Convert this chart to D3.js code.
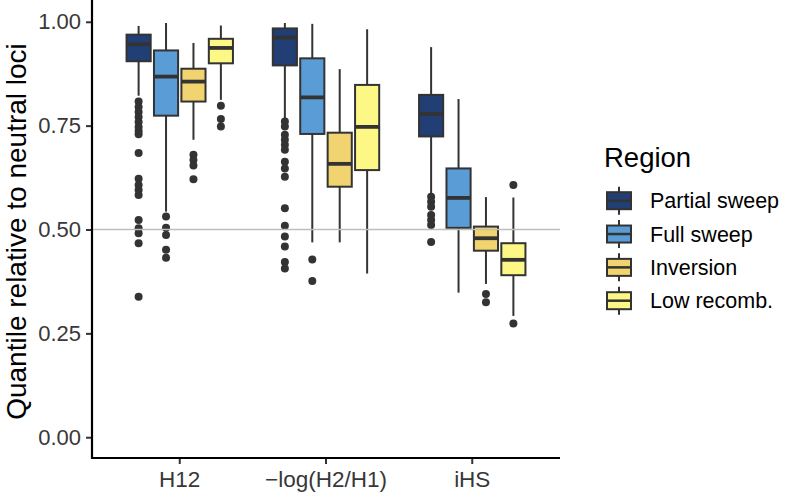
<!DOCTYPE html>
<html>
<head>
<meta charset="utf-8">
<script src="https://cdn.jsdelivr.net/npm/d3@7"></script>
<style>
  html, body { margin: 0; padding: 0; background: #ffffff; }
  svg { display: block; font-family: "Liberation Sans", Arial, Helvetica, sans-serif; }
</style>
</head>
<body>
<svg id="chart" width="789" height="495"></svg>
<script>
// ---------- data ----------
const categories = ["H12", "\u2212log(H2/H1)", "iHS"];
const regions = ["Partial sweep", "Full sweep", "Inversion", "Low recomb."];
const regionColors = ["#213f74", "#5a9cd6", "#f1d46f", "#fdf785"];
const yTicks = [0, 0.25, 0.5, 0.75, 1.0];
const yTickLabels = ["0.00", "0.25", "0.50", "0.75", "1.00"];
const referenceLine = 0.5;

// [category][region]
const lowerWhisker = [[0.822, 0.543, 0.716, 0.812], [0.768, 0.469, 0.469, 0.394], [0.583, 0.348, 0.369, 0.292]];
const q1           = [[0.905, 0.774, 0.808, 0.900], [0.895, 0.730, 0.603, 0.643], [0.724, 0.504, 0.449, 0.390]];
const medians      = [[0.946, 0.868, 0.856, 0.937], [0.962, 0.818, 0.658, 0.747], [0.778, 0.576, 0.479, 0.427]];
const q3           = [[0.969, 0.931, 0.887, 0.959], [0.984, 0.912, 0.733, 0.848], [0.824, 0.647, 0.507, 0.467]];
const upperWhisker = [[0.990, 0.997, 0.949, 0.991], [0.997, 0.995, 0.886, 0.982], [0.939, 0.814, 0.578, 0.577]];
const outliers = [
  [
    [0.808, 0.795, 0.783, 0.771, 0.759, 0.747, 0.737, 0.729, 0.684, 0.622, 0.607, 0.595, 0.583, 0.523, 0.503, 0.491, 0.467, 0.338],
    [0.531, 0.504, 0.487, 0.451, 0.432],
    [0.680, 0.667, 0.654, 0.621],
    [0.798, 0.766, 0.748]
  ],
  [
    [0.760, 0.748, 0.728, 0.716, 0.704, 0.692, 0.663, 0.647, 0.627, 0.551, 0.509, 0.483, 0.459, 0.422, 0.406],
    [0.428, 0.376],
    [],
    []
  ],
  [
    [0.579, 0.567, 0.555, 0.535, 0.523, 0.511, 0.470],
    [],
    [0.345, 0.325],
    [0.607, 0.274]
  ]
];

// ---------- layout ----------
const svg = d3.select("#chart");
const panel = { left: 92, right: 560, top: 1, bottom: 458 };
const ink = "#333333";
const tickInk = "#383838";

const x = d3.scaleBand().domain(categories).range([panel.left, panel.right]).paddingInner(0).paddingOuter(0.1);
const dodgeHalf = x.bandwidth() * 0.75 / 2;
const xInner = d3.scaleBand().domain(regions).range([-dodgeHalf, dodgeHalf]).paddingInner(0.12).paddingOuter(0.06);
const y = d3.scaleLinear().domain([-0.05, 1.05]).range([panel.bottom, panel.top]);
const color = d3.scaleOrdinal().domain(regions).range(regionColors);

// build box records
const boxes = [];
categories.forEach((c, ci) => {
  regions.forEach((r, ri) => {
    boxes.push({
      cat: c, region: r,
      lw: lowerWhisker[ci][ri], q1: q1[ci][ri], med: medians[ci][ri],
      q3: q3[ci][ri], uw: upperWhisker[ci][ri], out: outliers[ci][ri]
    });
  });
});
const cx = d => x(d.cat) + x.bandwidth() / 2 + xInner(d.region) + xInner.bandwidth() / 2;
const bw = xInner.bandwidth();

const g = svg.append("g");

// whiskers
g.selectAll("line.whisker-up").data(boxes).join("line")
  .attr("x1", cx).attr("x2", cx)
  .attr("y1", d => y(d.q3)).attr("y2", d => y(d.uw))
  .attr("stroke", ink).attr("stroke-width", 2);
g.selectAll("line.whisker-down").data(boxes).join("line")
  .attr("x1", cx).attr("x2", cx)
  .attr("y1", d => y(d.q1)).attr("y2", d => y(d.lw))
  .attr("stroke", ink).attr("stroke-width", 2);

// outliers
const outPts = [];
boxes.forEach(b => b.out.forEach(v => outPts.push({ b, v })));
g.selectAll("circle.out").data(outPts).join("circle")
  .attr("cx", d => cx(d.b)).attr("cy", d => y(d.v)).attr("r", 4)
  .attr("fill", ink);

// boxes
g.selectAll("rect.box").data(boxes).join("rect")
  .attr("x", d => cx(d) - bw / 2).attr("width", bw)
  .attr("y", d => y(d.q3)).attr("height", d => y(d.q1) - y(d.q3))
  .attr("fill", d => color(d.region))
  .attr("stroke", ink).attr("stroke-width", 2);

// medians
g.selectAll("line.median").data(boxes).join("line")
  .attr("x1", d => cx(d) - bw / 2).attr("x2", d => cx(d) + bw / 2)
  .attr("y1", d => y(d.med)).attr("y2", d => y(d.med))
  .attr("stroke", ink).attr("stroke-width", 3.8);

// reference line
svg.append("line")
  .attr("x1", panel.left).attr("x2", panel.right)
  .attr("y1", y(referenceLine)).attr("y2", y(referenceLine))
  .attr("stroke", "#bebebe").attr("stroke-width", 1.6);

// ---------- axes ----------
const yAxis = d3.axisLeft(y).tickValues(yTicks).tickSize(6).tickPadding(5)
  .tickFormat((d, i) => yTickLabels[i]);
const yg = svg.append("g").attr("transform", `translate(${panel.left},0)`).call(yAxis);
yg.select(".domain").remove();
yg.selectAll(".tick line").attr("stroke", ink).attr("stroke-width", 2);
yg.selectAll(".tick text").attr("fill", tickInk).style("font-size", "22px")
  .style("font-family", "Liberation Sans, Arial, sans-serif");

const xAxis = d3.axisBottom(x).tickSize(6).tickPadding(4);
const xg = svg.append("g").attr("transform", `translate(0,${panel.bottom})`).call(xAxis);
xg.select(".domain").remove();
xg.selectAll(".tick line").attr("stroke", ink).attr("stroke-width", 2);
xg.selectAll(".tick text").attr("fill", tickInk).style("font-size", "22.5px")
  .style("font-family", "Liberation Sans, Arial, sans-serif")
  .attr("y", 29).attr("dy", 0);

// axis lines
svg.append("path")
  .attr("d", `M${panel.left},${panel.top - 1} V${panel.bottom} H${panel.right}`)
  .attr("fill", "none").attr("stroke", "#000").attr("stroke-width", 2.2);

// y title
svg.append("text")
  .attr("transform", `translate(26,${(panel.top + panel.bottom) / 2 + 2}) rotate(-90)`)
  .attr("text-anchor", "middle")
  .style("font-size", "28px").attr("fill", "#000")
  .text("Quantile relative to neutral loci");

// ---------- legend ----------
const legend = svg.append("g").attr("transform", "translate(604,0)");
legend.append("text").attr("x", 0).attr("y", 167)
  .style("font-size", "27.5px").attr("fill", "#000").text("Region");
const rowY = d3.scalePoint().domain(regions).range([200.7, 300.7]);
const keys = legend.selectAll("g.key").data(regions).join("g")
  .attr("transform", r => `translate(0,${rowY(r)})`);
keys.append("line").attr("x1", 15).attr("x2", 15).attr("y1", -14).attr("y2", 14)
  .attr("stroke", ink).attr("stroke-width", 2);
keys.append("rect").attr("x", 3).attr("y", -8.5).attr("width", 24).attr("height", 17)
  .attr("fill", r => color(r)).attr("stroke", ink).attr("stroke-width", 2);
keys.append("line").attr("x1", 3).attr("x2", 27).attr("y1", 0).attr("y2", 0)
  .attr("stroke", ink).attr("stroke-width", 2.5);
keys.append("text").attr("x", 46).attr("y", 0).attr("dy", "0.36em")
  .style("font-size", "21.5px").attr("fill", "#000").text(r => r);
</script>
</body>
</html>
